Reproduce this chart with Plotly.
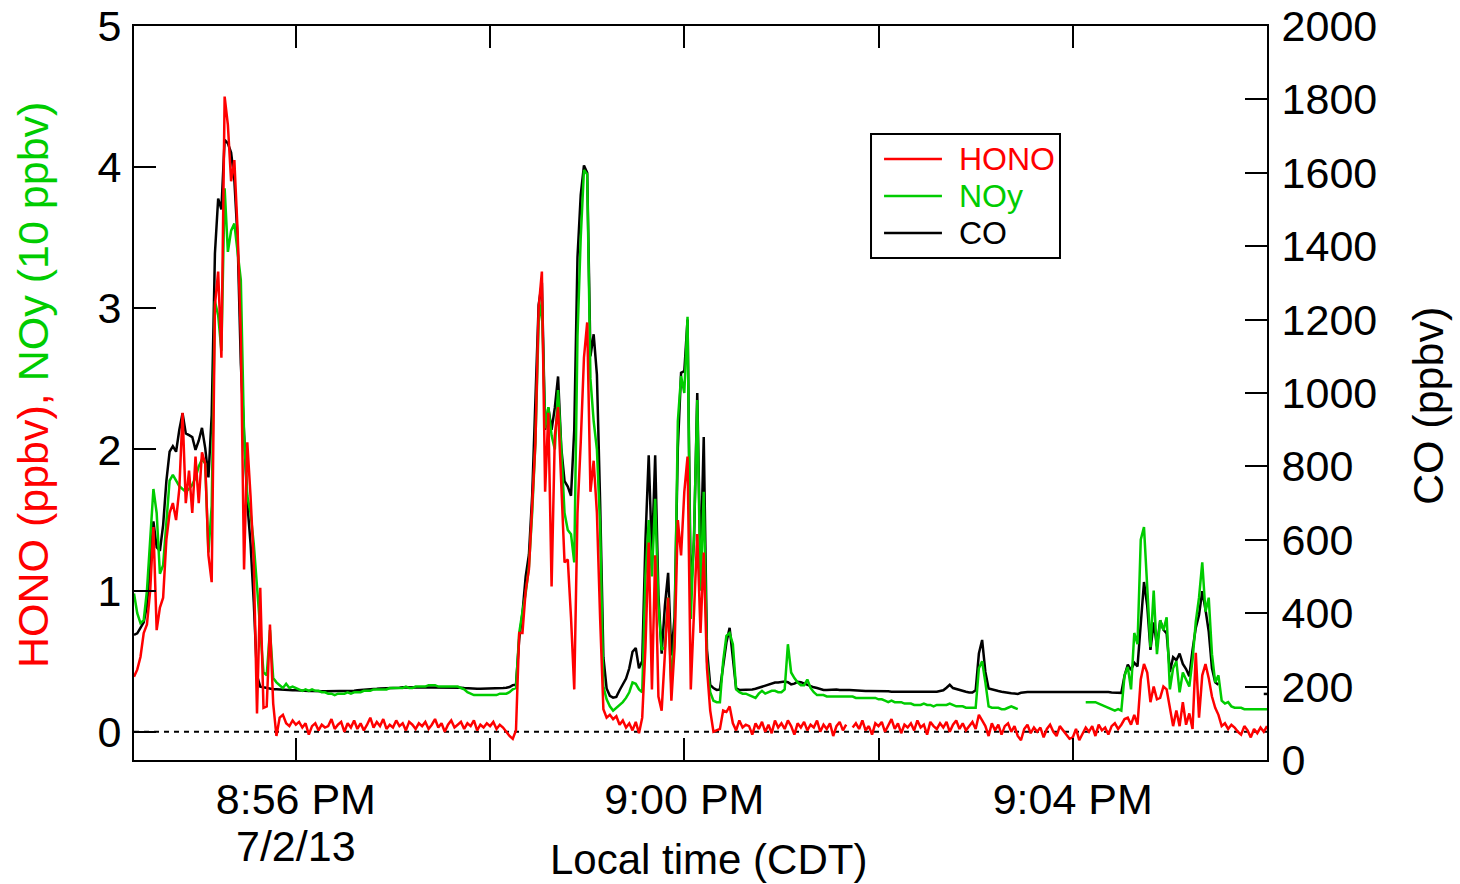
import pandas as pd
import plotly.graph_objects as go

# ---------------- data (2-s sampling) ----------------
t_start = "2013-07-02 20:54:20"
t_end = "2013-07-02 21:06:00"
sample_step = "2s"

# HONO (ppbv) - left axis
hono = [
    0.39, 0.44, 0.53, 0.70, 0.76, 1.00, 1.45, 0.72, 0.88, 0.95,
    1.36, 1.55, 1.62, 1.50, 1.72, 2.26, 1.62, 1.85, 1.55, 1.95,
    1.62, 1.98, 1.90, 1.25, 1.06, 3.02, 3.26, 2.65, 4.50, 4.30,
    3.90, 4.05, 3.55, 2.80, 1.15, 2.05, 1.67, 1.20, 0.13, 1.02,
    0.17, 0.18, 0.76, 0.20, -0.03, 0.10, 0.12, 0.06, 0.04, 0.08,
    0.05, 0.07, 0.03, 0.06, -0.02, 0.04, 0.06, 0.01, 0.05, 0.03,
    0.04, 0.09, 0.02, 0.05, 0.07, 0.00, 0.06, 0.03, 0.08, 0.02,
    0.06, 0.01, 0.05, 0.10, 0.03, 0.07, 0.04, 0.09, 0.02, 0.05,
    0.03, 0.08, 0.04, 0.06, 0.01, 0.07, 0.05, 0.02, 0.06, 0.04,
    0.07, 0.02, 0.05, 0.09, 0.03, 0.06, 0.00, 0.05, 0.08, 0.03,
    0.05, 0.07, 0.02, 0.06, 0.04, 0.08, 0.01, 0.05, 0.03, 0.06,
    0.04, 0.07, 0.02, 0.05, 0.03, 0.00, -0.03, -0.05, 0.01, 0.70,
    0.70, 1.00, 1.15, 1.60, 2.05, 3.00, 3.26, 1.70, 2.26, 1.03,
    2.10, 2.30, 1.70, 1.20, 1.22, 0.81, 0.30, 1.55, 2.05, 2.65,
    2.90, 1.70, 1.92, 1.55, 0.80, 0.16, 0.10, 0.12, 0.09, 0.11,
    0.05, 0.08, 0.03, 0.06, 0.01, 0.07, -0.01, 0.10, 0.60, 1.34,
    0.30, 1.25, 0.25, 0.15, 0.55, 0.95, 0.22, 0.60, 1.50, 1.25,
    1.70, 1.95, 0.30, 0.85, 1.40, 0.70, 1.27, 0.45, 0.15, 0.00,
    0.01, 0.02, 0.15, 0.14, 0.18, 0.06, 0.01, 0.08, 0.03, 0.05,
    0.04, -0.02, 0.06, 0.02, 0.07, 0.00, 0.05, -0.01, 0.08, 0.03,
    0.06, 0.02, 0.08, 0.04, -0.02, 0.06, 0.03, 0.07, 0.01, 0.05,
    0.03, 0.08, 0.00, 0.05, 0.02, 0.06, -0.03, 0.04, 0.07, 0.01,
    0.05, None, 0.03, 0.06, 0.02, 0.08, 0.01, 0.04, -0.02, 0.06,
    0.04, 0.07, 0.00, 0.05, 0.09, 0.02, 0.06, -0.01, 0.05, 0.03,
    0.06, 0.01, 0.08, 0.03, 0.05, -0.02, 0.07, 0.04, 0.02, 0.06,
    0.03, 0.07, 0.00, 0.05, 0.08, 0.02, 0.06, 0.01, 0.04, 0.07,
    0.02, 0.12, 0.08, 0.04, -0.03, 0.06, 0.01, 0.05, -0.02, 0.04,
    0.06, 0.00, 0.04, -0.03, -0.06, 0.02, 0.05, -0.01, 0.03, 0.00,
    0.03, -0.04, 0.02, 0.05, 0.00, -0.03, 0.04, 0.01, -0.02, -0.05,
    -0.04, 0.02, -0.06, -0.01, 0.03, 0.00, 0.04, -0.03, 0.05, 0.01,
    0.03, -0.02, 0.04, 0.06, 0.02, 0.05, 0.09, 0.10, 0.05, 0.12,
    0.05, 0.37, 0.48, 0.42, 0.21, 0.32, 0.23, 0.24, 0.32, 0.30,
    0.16, 0.04, 0.15, 0.04, 0.21, 0.05, 0.13, 0.02, 0.56, 0.10,
    0.40, 0.48, 0.38, 0.25, 0.17, 0.12, 0.04, 0.06, 0.02, 0.05,
    0.03, 0.00, -0.02, 0.04, 0.01, -0.04, 0.02, -0.01, 0.03, 0.00, 0.04,
]

# NOy (10 ppbv) - left axis
noy = [
    0.98, 0.84, 0.77, 0.79, 1.00, 1.35, 1.72, 1.55, 1.12, 1.18,
    1.45, 1.78, 1.82, 1.78, 1.74, 1.72, 1.70, 1.72, 1.75, 1.80,
    1.88, 1.93, 1.90, 1.27, 1.60, 3.05, 2.95, 2.70, 3.85, 3.40,
    3.55, 3.60, 3.42, 3.20, 2.10, 1.67, 1.55, 1.33, 1.03, 0.70,
    0.42, 0.40, 0.72, 0.38, 0.35, 0.33, 0.31, 0.34, 0.31, 0.32,
    0.31, 0.30, 0.29, 0.30, 0.29, 0.30, 0.29, 0.29, 0.28, 0.28,
    0.27, 0.27, 0.26, 0.27, 0.27, 0.27, 0.28, 0.27, 0.28, 0.28,
    0.28, 0.29, 0.29, 0.29, 0.30, 0.30, 0.30, 0.30, 0.30, 0.31,
    0.31, 0.31, 0.31, 0.31, 0.32, 0.31, 0.31, 0.32, 0.32, 0.32,
    0.32, 0.33, 0.33, 0.33, 0.32, 0.32, 0.32, 0.32, 0.32, 0.32,
    0.32, 0.31, 0.30, 0.28, 0.27, 0.26, 0.26, 0.26, 0.26, 0.26,
    0.26, 0.26, 0.26, 0.27, 0.27, 0.27, 0.28, 0.30, 0.31, 0.70,
    0.85, 0.98, 1.17, 1.55, 2.05, 2.90, 3.05, 2.15, 2.30, 2.10,
    2.00, 2.42, 2.00, 1.55, 1.43, 1.40, 1.20, 2.80, 3.50, 3.98,
    3.95, 2.50, 2.20, 2.00, 1.45, 0.32, 0.23, 0.18, 0.15, 0.17,
    0.19, 0.21, 0.24, 0.28, 0.35, 0.34, 0.30, 0.28, 1.10, 1.50,
    1.10, 1.65, 0.90, 0.58, 0.60, 0.95, 0.32, 0.70, 2.20, 2.52,
    2.40, 2.94, 0.80, 1.40, 2.35, 1.00, 1.70, 0.50, 0.28, 0.22,
    0.21, 0.21, 0.50, 0.68, 0.70, 0.62, 0.30, 0.28, 0.27, 0.27,
    0.26, 0.25, 0.24, 0.27, 0.29, 0.27, 0.28, 0.29, 0.29, 0.28,
    0.28, 0.30, 0.62, 0.42, 0.38, 0.35, 0.33, 0.33, 0.37, 0.31,
    0.28, 0.26, 0.26, 0.26, 0.25, 0.25, 0.25, 0.25, 0.25, 0.25,
    0.25, 0.25, 0.25, 0.24, 0.24, 0.24, 0.24, 0.24, 0.24, 0.24,
    0.23, 0.23, 0.22, 0.21, 0.22, 0.21, 0.21, 0.21, 0.20, 0.20,
    0.20, 0.19, 0.19, 0.19, 0.20, 0.19, 0.19, 0.18, 0.19, 0.19,
    0.19, 0.19, 0.20, 0.19, 0.18, 0.18, 0.18, 0.17, 0.17, 0.17,
    0.17, 0.45, 0.50, 0.35, 0.18, 0.17, 0.17, 0.17, 0.16, 0.16,
    0.17, 0.18, 0.17, 0.16, None, None, None, None, None, None,
    None, None, None, None, None, None, None, None, None, None,
    None, None, None, None, 0.21, 0.21, 0.21, 0.21, 0.20, 0.19,
    0.18, 0.17, 0.16, 0.15, 0.16, 0.15, 0.40, 0.46, 0.30, 0.70,
    0.62, 1.36, 1.45, 1.00, 0.60, 1.00, 0.55, 0.79, 0.72, 0.81,
    0.30, 0.45, 0.50, 0.28, 0.42, 0.37, 0.32, 0.51, 0.78, 0.95,
    1.20, 0.85, 0.95, 0.55, 0.35, 0.40, 0.22, 0.20, 0.21, 0.18,
    0.17, 0.17, 0.17, 0.16, 0.16, 0.16, 0.16, 0.16, 0.16, 0.16, 0.16,
]

# CO (ppbv) - right axis
co = [
    341, 345, 360, 375, 420, 540, 650, 580, 570, 640,
    760, 840, 855, 840, 900, 945, 890, 885, 880, 845,
    870, 905, 850, 770, 940, 1380, 1530, 1500, 1690, 1680,
    1655, 1580, 1420, 1080, 870, 700, 590, 430, 230, 200,
    198, 196, 195, 193, 193, 192, 191, 190, 191, 190,
    190, 189, 189, 188, 188, 188, 187, 187, 187, 187,
    187, 187, 187, 187, 188, 188, 188, 189, 189, 190,
    191, 192, 192, 193, 194, 194, 195, 195, 196, 196,
    197, 197, 197, 198, 198, 198, 198, 198, 199, 199,
    199, 199, 199, 199, 199, 199, 198, 198, 198, 198,
    198, 197, 196, 195, 194, 194, 194, 194, 194, 194,
    194, 194, 195, 195, 196, 197, 199, 204, 205, 330,
    400, 500, 560, 720, 1000, 1240, 1300, 900, 960, 900,
    960, 1045, 850, 760, 745, 720, 900, 1370, 1540, 1620,
    1600, 1100, 1160, 1050, 700, 280, 195, 175, 170, 172,
    190, 205, 222, 250, 295, 305, 250, 270, 600, 830,
    560, 830, 450, 290, 420, 510, 285, 390, 850, 1055,
    1060, 1200, 450, 600, 1000, 520, 880, 300, 205, 196,
    191, 192, 260, 320, 360, 270, 195, 191, 191, 190,
    191, 192, 194, 197, 200, 204, 207, 209, 211, 211,
    213, 214, 212, 206, 208, 213, 212, 208, 206, 201,
    198, 196, 193, 191, 191, 192, 193, 192, 191, 192,
    191, 191, 190, 190, 189, 189, 188, 188, 188, 189,
    189, 189, 188, 187, 186, 186, 185, 185, 184, 184,
    184, 184, 184, 184, 185, 185, 185, 186, 186, 188,
    190, 197, 205, 196, 193, 190, 189, 186, 184, 184,
    190, 290, 327, 240, 195, 192, 190, 188, 186, 184,
    184, 182, 181, 180, 183, 185, 185, 185, 185, 186,
    186, 185, 186, 187, 186, 186, 185, 186, 186, 185,
    185, 185, 186, 186, 186, 185, 185, 185, 186, 186,
    185, 185, 184, 184, 184, 183, 230, 260, 245, 265,
    255, 380, 485, 420, 300, 375, 310, 380, 355, 345,
    240, 280, 272, 290, 262, 248, 228, 300, 360, 395,
    460, 410, 350, 250, 212, 205, None, None, None, None,
    None, None, None, None, None, None, None, None, None, 180, 180,
]

tick_times = ["2013-07-02 20:56:00", "2013-07-02 20:58:00", "2013-07-02 21:00:00",
              "2013-07-02 21:02:00", "2013-07-02 21:04:00"]
tick_text = ["8:56 PM", "", "9:00 PM", "", "9:04 PM"]
date_label = "7/2/13"
left_ticks = [0, 1, 2, 3, 4, 5]
right_ticks = [0, 200, 400, 600, 800, 1000, 1200, 1400, 1600, 1800, 2000]

series_names = ["HONO", "NOy", "CO"]
RED, GREEN, BLACK = "#FF0000", "#00CC00", "#000000"

times = pd.date_range(start=t_start, periods=len(hono), freq=sample_step)

FONT = "Liberation Sans, Arial, sans-serif"
TICK_SIZE = 43
TITLE_SIZE = 43
LW = 2.5

fig = go.Figure()
# CO drawn first (bottom), on primary y (right side)
fig.add_trace(go.Scatter(x=times, y=co, name="CO", mode="lines",
                         line=dict(color=BLACK, width=LW), yaxis="y", showlegend=False))
fig.add_trace(go.Scatter(x=times, y=noy, name="NOy", mode="lines",
                         line=dict(color=GREEN, width=LW), yaxis="y2", showlegend=False))
fig.add_trace(go.Scatter(x=times, y=hono, name="HONO", mode="lines",
                         line=dict(color=RED, width=LW), yaxis="y2", showlegend=False))

axis_common = dict(showline=True, linewidth=2, linecolor="black", ticks="inside",
                   ticklen=22, tickwidth=2, tickcolor="black", showgrid=False,
                   zeroline=False, automargin=False,
                   tickfont=dict(family=FONT, size=TICK_SIZE, color="black"))

fig.update_layout(
    width=1460, height=884,
    margin=dict(l=134, r=193, t=26, b=124, pad=0),
    paper_bgcolor="white", plot_bgcolor="white",
    font=dict(family=FONT, color="black"),
    xaxis=dict(type="date", range=[t_start, t_end], tickmode="array",
               tickvals=tick_times, ticktext=tick_text, mirror="ticks", **axis_common),
    yaxis=dict(side="right", range=[0, 2000], tickmode="array", tickvals=right_ticks,
               ticklabelstandoff=4, **axis_common),
    yaxis2=dict(side="left", overlaying="y", range=[-0.2, 5], tickmode="array",
                tickvals=left_ticks, ticklabelstandoff=2, **axis_common),
)

# dotted zero line
fig.add_shape(type="line", xref="paper", x0=0, x1=1, yref="y2", y0=0, y1=0,
              line=dict(color="black", width=2, dash="5px,5px"), layer="below")

# date under first tick label
fig.add_annotation(x=tick_times[0], xref="x", y=-0.1172, yref="paper", text=date_label,
                   showarrow=False, font=dict(family=FONT, size=TICK_SIZE, color="black"),
                   xanchor="center", yanchor="middle")

# axis titles
fig.add_annotation(x=0.5075, xref="paper", y=-0.1349, yref="paper", text="Local time (CDT)",
                   showarrow=False, font=dict(family=FONT, size=42, color="black"),
                   xanchor="center", yanchor="middle")
fig.add_annotation(x=-0.0891, xref="paper", y=0.511, yref="paper",
                   text=f'<span style="color:{RED}">HONO (ppbv),</span> '
                        f'<span style="color:{GREEN}">NOy (10 ppbv)</span>',
                   textangle=-90, showarrow=False,
                   font=dict(family=FONT, size=TITLE_SIZE, color=RED),
                   xanchor="center", yanchor="middle")
fig.add_annotation(x=1.142, xref="paper", y=0.482, yref="paper", text="CO (ppbv)",
                   textangle=-90, showarrow=False,
                   font=dict(family=FONT, size=TITLE_SIZE, color="black"),
                   xanchor="center", yanchor="middle")

# legend box (drawn to match the reference's long line samples)
fig.add_shape(type="rect", xref="paper", yref="paper", x0=0.6505, x1=0.8173,
              y0=0.6839, y1=0.8529, line=dict(color="black", width=2),
              fillcolor="white", layer="above")
legend_rows = [0.8188, 0.7684, 0.7180]
for name, col, yy in zip(series_names, [RED, GREEN, BLACK], legend_rows):
    fig.add_shape(type="line", xref="paper", yref="paper", x0=0.662, x1=0.7131,
                  y0=yy, y1=yy, line=dict(color=col, width=LW), layer="above")
    fig.add_annotation(x=0.7264, xref="paper", y=yy, yref="paper", text=name,
                       showarrow=False, xanchor="left", yanchor="middle",
                       font=dict(family=FONT, size=32, color=col))

fig.write_html("out.html")
